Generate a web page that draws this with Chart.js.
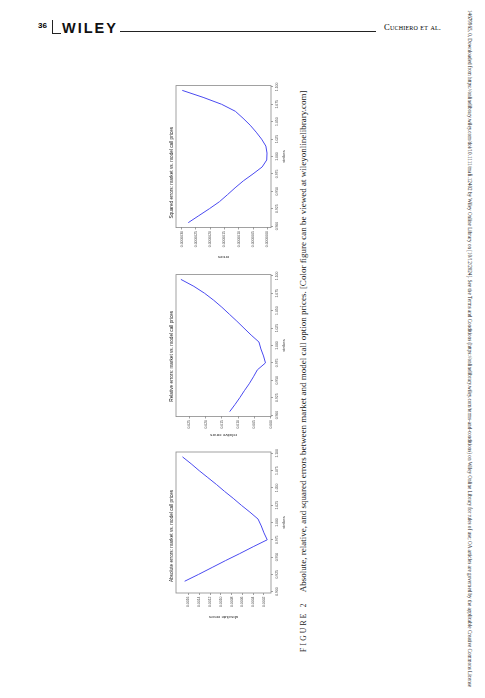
<!DOCTYPE html>
<html><head><meta charset="utf-8">
<script src="https://cdn.jsdelivr.net/npm/chart.js@4"></script>
<style>
html,body{margin:0;padding:0;background:#fff;}
body{width:485px;height:698px;position:relative;overflow:hidden;font-family:'Liberation Serif','DejaVu Serif',serif;color:#1a1a1a;}
#land{position:absolute;left:0;top:0;width:620px;height:170px;transform-origin:0 0;transform:translate(160px,670px) rotate(-90deg);}
#land canvas{position:absolute;}
#cap{position:absolute;left:18px;top:138px;white-space:nowrap;font-size:9px;line-height:10px;}
#cap .fig{letter-spacing:2.2px;font-size:7.6px;margin-right:9px;}
#pg{position:absolute;left:38px;top:21px;font-family:'Liberation Sans',Arial,sans-serif;font-weight:bold;font-size:8px;color:#000;}
#wiley{position:absolute;left:62px;top:19.5px;font-family:'Liberation Sans',Arial,sans-serif;font-weight:bold;font-size:14.5px;letter-spacing:2px;line-height:16px;color:#111;}
#auth{position:absolute;left:384px;top:22px;font-size:8.6px;font-variant:small-caps;letter-spacing:0.2px;color:#000;}
.ln{position:absolute;background:#222;}
#side{position:absolute;left:473px;top:10px;transform-origin:0 0;transform:rotate(90deg);white-space:nowrap;font-size:5.15px;line-height:6px;color:#222;}
</style>
</head><body>
<div id="pg">36</div>
<div class="ln" style="left:52px;top:20px;width:0.8px;height:14px;"></div>
<div class="ln" style="left:52px;top:33.2px;width:9px;height:0.8px;"></div>
<div id="wiley">WILEY</div>
<div class="ln" style="left:120px;top:31px;width:256px;height:0.8px;"></div>
<div id="auth">Cuchiero et al.</div>
<div id="side">14679965, 0, Downloaded from https://onlinelibrary.wiley.com/doi/10.1111/mafi.12402 by Wiley Online Library on [10/12/2024]. See the Terms and Conditions (https://onlinelibrary.wiley.com/terms-and-conditions) on Wiley Online Library for rules of use; OA articles are governed by the applicable Creative Commons License</div>
<div id="land">
  <canvas id="c1" width="173" height="117" style="left:50px;top:9px;"></canvas>
  <canvas id="c2" width="169" height="117" style="left:232px;top:9px;"></canvas>
  <canvas id="c3" width="180" height="117" style="left:410px;top:9px;"></canvas>
  <div id="cap"><span class="fig">FIGURE 2</span>Absolute, relative, and squared errors between market and model call option prices. [Color figure can be viewed at wileyonlinelibrary.com]</div>
</div>
<script>
// ---- data ----
const strikes = [0.905,0.915,0.925,0.935,0.945,0.955,0.965,0.975,0.985,0.995,1.005,1.015,1.025,1.035,1.045,1.055,1.065,1.075,1.085,1.095];
const absErrors = [null,0.00167,0.00141,0.00116,0.00091,0.00065,0.00040,0.00014,0.00020,0.00025,0.00031,0.00046,0.00062,0.00077,0.00093,0.00108,0.00124,0.00140,0.00155,0.00171];
const relErrors = [0.0126,0.0110,0.0095,0.0081,0.0066,0.0053,0.0041,0.0016,0.0022,0.0030,0.0036,0.0060,0.0082,0.0104,0.0127,0.0150,0.0175,0.0203,0.0236,0.0276];
const sqErrors = [2.77e-6,2.40e-6,2.03e-6,1.68e-6,1.40e-6,1.13e-6,0.84e-6,0.50e-6,0.18e-6,0.02e-6,0.01e-6,0.05e-6,0.20e-6,0.39e-6,0.60e-6,0.85e-6,1.12e-6,1.60e-6,2.25e-6,2.98e-6];
const xTicks = [0.900,0.925,0.950,0.975,1.000,1.025,1.050,1.075,1.100];
const absTicks = [0.0002,0.0004,0.0006,0.0008,0.0010,0.0012,0.0014,0.0016];
const relTicks = [0.000,0.005,0.010,0.015,0.020,0.025];
const sqTicks = [0,0.0000005,0.0000010,0.0000015,0.0000020,0.0000025,0.0000030];

Chart.defaults.font.family = "'Liberation Sans', Arial, sans-serif";
Chart.defaults.color = '#333';

const framePlugin = {
  id:'frame',
  afterDraw(chart){
    const {ctx, chartArea:a} = chart;
    ctx.save();
    ctx.strokeStyle = '#8a8a8a';
    ctx.lineWidth = 0.8;
    ctx.strokeRect(a.left, a.top, a.right - a.left, a.bottom - a.top);
    ctx.restore();
  }
};

function makeChart(id, title, ylabel, values, yTicks, yMin, yMax, dec, yW, padR){
  new Chart(document.getElementById(id), {
    type:'line',
    data:{datasets:[{
      data: strikes.map((s,i)=>({x:s, y:values[i]})),
      borderColor:'#4a4af0', borderWidth:1, pointRadius:0, tension:0, fill:false
    }]},
    options:{
      responsive:false, animation:false, devicePixelRatio:1,
      layout:{padding:{top:0.36, right:padR, bottom:0, left:0}},
      plugins:{
        legend:{display:false}, tooltip:{enabled:false},
        title:{display:true, text:title, color:'#222', font:{size:4.7, weight:'normal'}, padding:{top:0,bottom:1}}
      },
      scales:{
        x:{type:'linear', min:0.898, max:1.102,
           afterBuildTicks:s=>{s.ticks = xTicks.map(v=>({value:v}));},
           afterFit:s=>{s.height = 15;},
           grid:{drawOnChartArea:false, drawTicks:true, tickLength:2, color:'#8a8a8a', lineWidth:0.8},
           border:{display:false},
           ticks:{autoSkip:false, maxRotation:0, minRotation:0, padding:1.6, font:{size:3.4}, color:'#444', callback:v=>Number(v).toFixed(3)},
           title:{display:true, text:'strikes', font:{size:4.4}, color:'#333', padding:{top:0,bottom:0}}
        },
        y:{type:'linear', min:yMin, max:yMax,
           afterBuildTicks:s=>{s.ticks = yTicks.map(v=>({value:v}));},
           afterFit:s=>{s.width = yW;},
           grid:{drawOnChartArea:false, drawTicks:true, tickLength:2, color:'#8a8a8a', lineWidth:0.8},
           border:{display:false},
           ticks:{autoSkip:false, padding:1.6, font:{size:3.4}, color:'#444', callback:v=>Number(v).toFixed(dec)},
           title:{display:true, text:ylabel, font:{size:4.4}, color:'#333', padding:{top:0,bottom:0}}
        }
      }
    },
    plugins:[framePlugin]
  });
}

makeChart('c1','Absolute errors: market vs. model call prices','absolute errors',absErrors,absTicks,0.00007,0.00183,4,27,5);
makeChart('c2','Relative errors: market vs. model call prices','relative errors',relErrors,relTicks,-0.0001,0.0291,3,21.5,5.5);
makeChart('c3','Squared errors: market vs. model call prices','errors',sqErrors,sqTicks,-0.00000013,0.0000032,7,32.5,5.5);
</script>
</body></html>
